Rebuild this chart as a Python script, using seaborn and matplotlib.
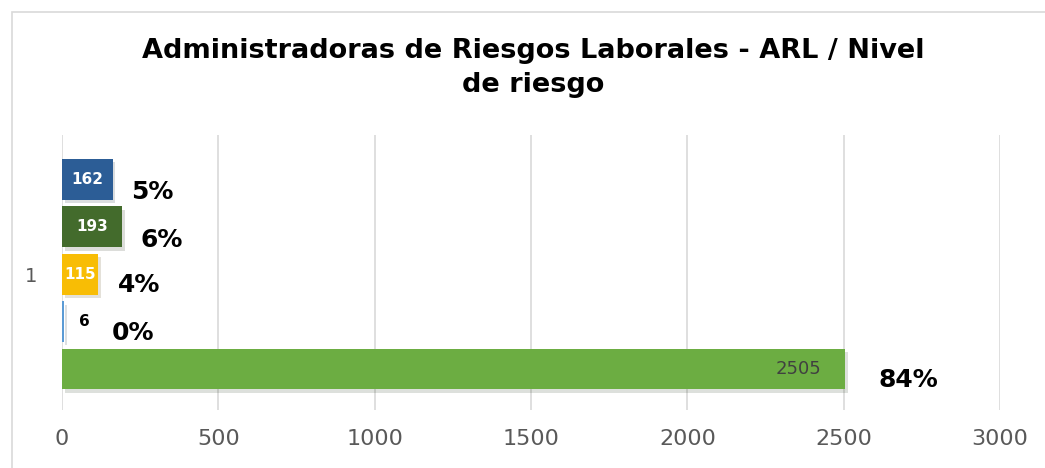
import matplotlib
matplotlib.use("Agg")
import matplotlib.pyplot as plt
import matplotlib.patheffects as pe
from matplotlib.patches import Rectangle
import seaborn as sns
import pandas as pd

categories = ["1"]
series = ["Serie A", "Serie B", "Serie C", "Serie D", "Serie E"]
values = [162, 193, 115, 6, 2505]
xticks = [0, 500, 1000, 1500, 2000, 2500, 3000]

colors = ["#2C5D96", "#436B2C", "#F8BD05", "#5B9BD5", "#6CAD42"]
label_colors = ["white", "white", "white", "black", "#404040"]
label_weights = ["bold", "bold", "bold", "bold", "normal"]

total = sum(values)
percents = [f"{round(v / total * 100):.0f}%" for v in values]

df = pd.DataFrame({"cat": categories * len(series), "serie": series, "valor": values})

sns.set_theme(style="white")
plt.rcParams["font.family"] = ["DejaVu Sans"]

fig = plt.figure(figsize=(10.45, 4.68), dpi=100)
fig.patches.append(Rectangle((12 / 1045, -0.1), 1.2, 1 - 12 / 468 + 0.1,
                             transform=fig.transFigure, fill=False,
                             edgecolor="#D9D9D9", linewidth=1.2, zorder=0))
ax = fig.add_axes([62 / 1045, 1 - 410 / 468, (1000 - 62) / 1045, (410 - 135) / 468])

sns.barplot(data=df, y="cat", x="valor", hue="serie", hue_order=series,
            palette=colors, orient="h", width=0.8, gap=0.14, legend=False,
            ax=ax, edgecolor="none", saturation=1)

ax.set_xlim(0, 3000)
ax.set_ylim(0.458, -0.469)
ax.set_xticks(xticks)
ax.set_xticklabels([str(t) for t in xticks])
ax.grid(axis="x", color="#D9D9D9", linewidth=1.2)
ax.set_axisbelow(True)
for s in ax.spines.values():
    s.set_visible(False)
ax.tick_params(axis="x", colors="#595959", labelsize=16, pad=14, length=0)
ax.tick_params(axis="y", colors="#595959", labelsize=14, pad=18, length=0)
ax.set_xlabel("")
ax.set_ylabel("")

bars = sorted(ax.patches, key=lambda p: p.get_y())
pct_offsets = [(18, -13), (18, -13), (20, -11), (48, -11), (33, -11)]
for i, bar in enumerate(bars):
    bar.set_path_effects([pe.SimplePatchShadow(offset=(2, -2.5), alpha=0.15), pe.Normal()])
    w = bar.get_width()
    yc = bar.get_y() + bar.get_height() / 2
    v = values[i]
    if i < 3:
        ax.text(w / 2, yc, f"{v}", ha="center", va="center",
                color=label_colors[i], fontweight=label_weights[i], fontsize=11)
    elif i == 3:
        ax.annotate(f"{v}", (w, yc), xytext=(15, 0), textcoords="offset points",
                    ha="center", va="center", color=label_colors[i],
                    fontweight=label_weights[i], fontsize=11)
    else:
        ax.annotate(f"{v}", (w, yc), xytext=(-17, 0), textcoords="offset points",
                    ha="right", va="center", color=label_colors[i],
                    fontweight=label_weights[i], fontsize=13)
    dx, dy = pct_offsets[i]
    ax.annotate(percents[i], (w, yc), xytext=(dx * 0.72, dy * 0.72),
                textcoords="offset points", ha="left", va="center",
                color="black", fontweight="bold", fontsize=18)

fig.text(533 / 1045, 1 - 68 / 468,
         "Administradoras de Riesgos Laborales - ARL / Nivel\nde riesgo",
         ha="center", va="center", fontsize=19.5, fontweight="bold",
         color="black", linespacing=1.42)

fig.savefig("out.png", dpi=100, facecolor="white")
